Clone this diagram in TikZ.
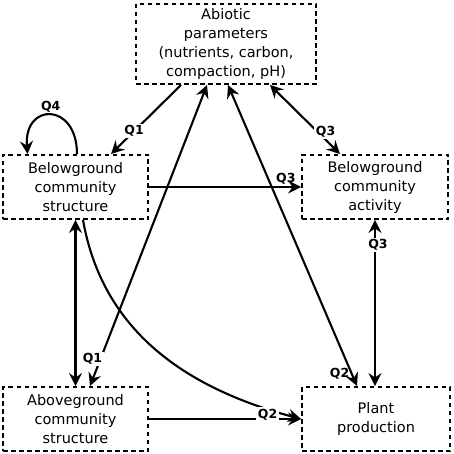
\documentclass[tikz,border=0pt]{standalone}
\usepackage{fontspec}
\setmainfont{DejaVu Sans}
\usepackage{tikz}
\usetikzlibrary{arrows.meta}

\begin{document}
\begin{tikzpicture}[x=1pt, y=1pt, line width=2.1pt,
    >={Stealth[length=13pt,width=13pt,inset=4.5pt]},
    box/.style = {draw, line width=1.9pt, dash pattern=on 4.5pt off 3.5pt, align=center, inner sep=0pt,
                  font=\fontsize{14.5}{19}\selectfont},
    qlab/.style = {font=\fontsize{12.5}{14}\selectfont\bfseries, inner sep=1.5pt}]
    \useasboundingbox (0,0) rectangle (454,-454);

    \node[box, minimum width=180, minimum height=80] (abio) at (226,-44)
      {Abiotic\\parameters\\(nutrients, carbon,\\compaction, pH)};
    \node[box, minimum width=145, minimum height=64] (bcs) at (75.5,-187)
      {Belowground\\community\\structure};
    \node[box, minimum width=146, minimum height=64] (bca) at (375,-187)
      {Belowground\\community\\activity};
    \node[box, minimum width=145, minimum height=64] (acs) at (75.5,-419)
      {Aboveground\\community\\structure};
    \node[box, minimum width=148, minimum height=64] (pp) at (376,-419)
      {Plant\\production};

    % arrows from and to the abiotic box
    \draw[->] ([xshift=-45pt]abio.south) -- node[qlab, pos=0.67, fill=white] {Q1} ([xshift=35.5pt]bcs.north);
    \draw[<->] ([xshift=14.5pt]acs.north) -- node[qlab, pos=0.09, fill=white, xshift=-8pt] {Q1} ([xshift=-19pt]abio.south);
    \draw[<->] ([xshift=2pt]abio.south) -- node[qlab, pos=0.96, left] {Q2} ([xshift=-19pt]pp.north);
    \draw[<->] ([xshift=44pt]abio.south) -- node[qlab, pos=0.68, fill=white, xshift=8pt] {Q3} ([xshift=-35pt]bca.north);

    \draw[->] (bcs.east) -- node[qlab, pos=0.9, above] {Q3} (bca.west);
    \draw[->] ([xshift=1.5pt]bcs.north) .. controls +(0,52) and +(-4,52) .. node[qlab, above] {Q4} ([xshift=-48pt]bcs.north);
    \draw[<->] (bcs.south) -- (acs.north);
    \draw[<->] (bca.south) -- node[qlab, pos=0.15, fill=white, xshift=3pt] {Q3} ([xshift=-1pt]pp.north);

    \draw[->] ([xshift=7.5pt]bcs.south) to[out=-80, in=165] (pp.west);
    \draw[->] (acs.east) -- node[qlab, pos=0.78, fill=white, yshift=4pt, inner sep=2pt] {Q2} (pp.west);

    % \draw[help lines] (0,0) grid[step=50] (454,-454);
\end{tikzpicture}
\end{document}
